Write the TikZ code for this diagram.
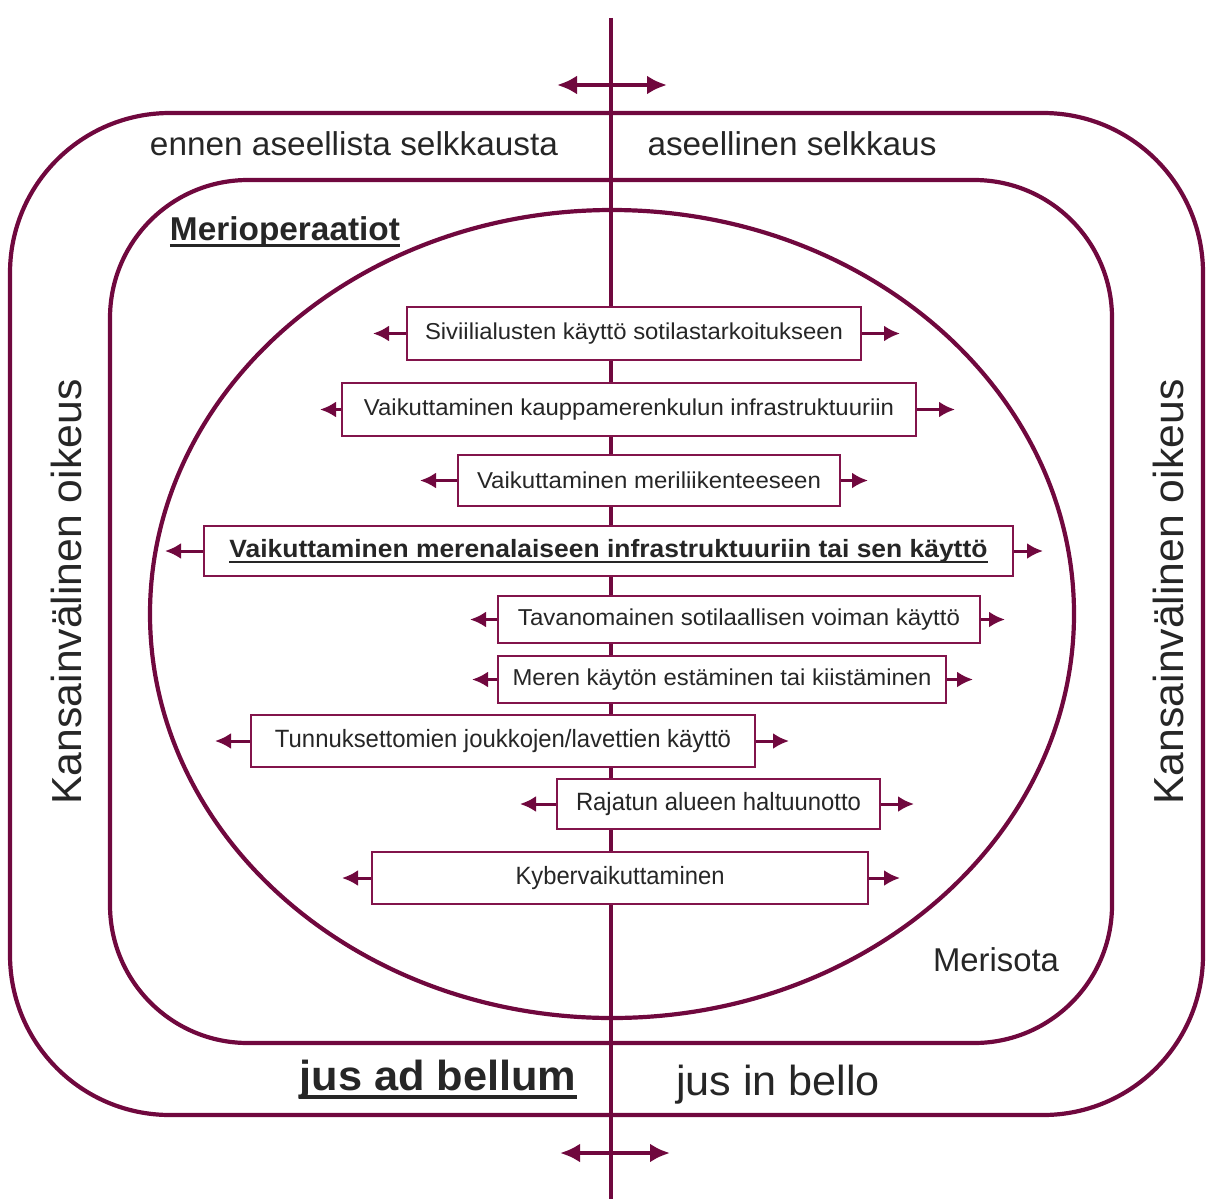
\documentclass[tikz,border=0pt]{standalone}
\usepackage{fontspec}
\setmainfont{Liberation Sans}
\usetikzlibrary{arrows.meta}
\definecolor{lc}{RGB}{112,8,62}
\definecolor{bc}{RGB}{130,20,75}
\definecolor{tc}{RGB}{38,38,38}
\newcommand\bxf{\fontsize{23}{27}\selectfont}
\newcommand\bxg{\fontsize{25}{29}\selectfont}
\newcommand\midf{\fontsize{33}{38}\selectfont}
\newcommand\bigf{\fontsize{42}{48}\selectfont}
\newcommand\fitw[2]{\resizebox{#1pt}{\height}{#2}}
\newcommand\myul[1]{\setbox0=\hbox{#1}\leavevmode\rlap{\rule[-0.21em]{\wd0}{0.085em}}\box0}
\tikzset{
  frame/.style={draw=lc, line width=4.2pt},
  box/.style={draw=bc, line width=2.5pt, fill=white, inner sep=0pt, text=tc, font=\bxf},
  arr/.style={draw=lc, line width=3pt, -{Latex[length=16pt,width=16pt]}},
  darr/.style={draw=lc, line width=4.2pt, {Latex[length=20pt,width=19pt]}-{Latex[length=20pt,width=19pt]}},
  lbl/.style={text=tc, inner sep=0pt, anchor=base}
}
\begin{document}
\begin{tikzpicture}[x=1pt,y=-1pt]
\useasboundingbox (0,0) rectangle (1206,1199);
% frames
\draw[frame, rounded corners=160pt] (10,113) rectangle (1203,1115);
\draw[frame, rounded corners=138pt] (110,180) rectangle (1112,1043);
\draw[frame] (612,614) ellipse [x radius=462, y radius=404];
% axis
\coordinate (ax1) at (611,18);
\coordinate (ax2) at (611,1199);
\draw[frame] (ax1) -- (ax2);
\coordinate (ta1) at (557,85); \coordinate (ta2) at (667,85);
\coordinate (ba1) at (560,1153); \coordinate (ba2) at (670,1153);
\draw[darr] (ta1) -- (ta2);
\draw[darr] (ba1) -- (ba2);
% labels
\node[lbl] (l1) at (354,155) {\midf\fitw{408}{ennen aseellista selkkausta}};
\node[lbl] (l2) at (792,155) {\midf\fitw{289}{aseellinen selkkaus}};
\node[lbl] (l3) at (285,240) {\midf\bfseries\fitw{230}{\myul{Merioperaatiot}}};
\node[lbl] (l4) at (996,971) {\midf\fitw{126}{Merisota}};
\node[lbl] (l5) at (438,1090) {\bigf\bfseries\fitw{277}{\myul{jus ad bellum}}};
\node[lbl] (l6) at (778,1095) {\bigf\fitw{204}{jus in bello}};
\node[text=tc, inner sep=0pt, rotate=90] (l7) at (66,592) {\bigf\fitw{425}{Kansainvälinen oikeus}};
\node[text=tc, inner sep=0pt, rotate=90] (l8) at (1168,592) {\bigf\fitw{425}{Kansainvälinen oikeus}};
% boxes
\node[box, minimum width=454, minimum height=53] (b1) at (634,333.5) {\fitw{418}{Siviilialusten käyttö sotilastarkoitukseen}};
\node[box, minimum width=574, minimum height=53] (b2) at (629,409.5) {\fitw{530}{Vaikuttaminen kauppamerenkulun infrastruktuuriin}};
\node[box, minimum width=382, minimum height=51] (b3) at (649,480.5) {\fitw{344}{Vaikuttaminen meriliikenteeseen}};
\node[box, minimum width=809, minimum height=50, font=\bxg] (b4) at (608.5,551) {\bfseries\fitw{758}{\myul{Vaikuttaminen merenalaiseen infrastruktuuriin tai sen käyttö}}};
\node[box, minimum width=482, minimum height=47] (b5) at (739,619.5) {\fitw{442}{Tavanomainen sotilaallisen voiman käyttö}};
\node[box, minimum width=448, minimum height=47] (b6) at (722,679.5) {\fitw{419}{Meren käytön estäminen tai kiistäminen}};
\node[box, minimum width=504, minimum height=52, font=\bxg] (b7) at (503,741) {\fitw{456}{Tunnuksettomien joukkojen/lavettien käyttö}};
\node[box, minimum width=323, minimum height=50, font=\bxg] (b8) at (718.5,804) {\fitw{285}{Rajatun alueen haltuunotto}};
\node[box, minimum width=496, minimum height=52, font=\bxg] (b9) at (620,878) {\fitw{209}{Kybervaikuttaminen}};
% arrow ends
\coordinate (b1l) at (373,333.5); \coordinate (b1r) at (900,333.5);
\coordinate (b2l) at (320,409.5); \coordinate (b2r) at (955,409.5);
\coordinate (b3l) at (420,480.5); \coordinate (b3r) at (868,480.5);
\coordinate (b4l) at (165,551); \coordinate (b4r) at (1043,551);
\coordinate (b5l) at (470,619.5); \coordinate (b5r) at (1005,619.5);
\coordinate (b6l) at (472,679.5); \coordinate (b6r) at (973,679.5);
\coordinate (b7l) at (215,741); \coordinate (b7r) at (789,741);
\coordinate (b8l) at (520,804); \coordinate (b8r) at (914,804);
\coordinate (b9l) at (342,878); \coordinate (b9r) at (900,878);
\foreach \i in {1,...,9}{
  \draw[arr] (b\i.west) -- (b\i l);
  \draw[arr] (b\i.east) -- (b\i r);
}
\end{tikzpicture}
\end{document}
